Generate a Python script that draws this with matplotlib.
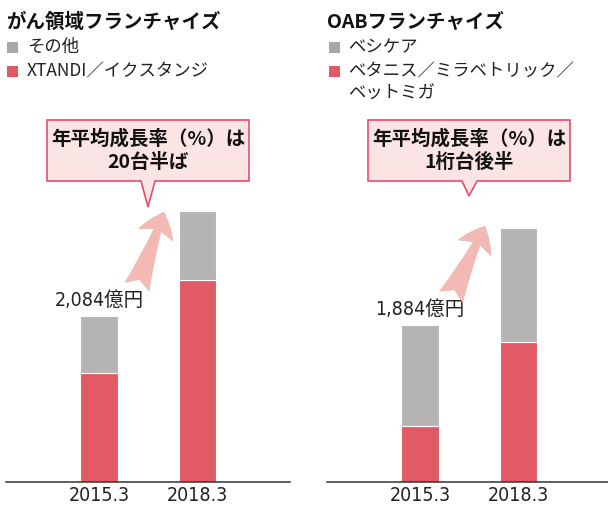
import matplotlib
matplotlib.use("Agg")
import matplotlib.pyplot as plt
from matplotlib.patches import Rectangle, Polygon

# data (億円)
years = ["2015.3", "2018.3"]
onc_xtandi = [1368, 2536]
onc_other = [716, 866]
oab_mirabegron = [672, 1680]
oab_vesicare = [1212, 1368]
onc_total_label = "2,084億円"
oab_total_label = "1,884億円"

RED = "#E15A65"
GRAY = "#B5B4B2"
LEG_GRAY = "#A7A8AC"
BOX_FILL = "#FBE4E4"
BOX_EDGE = "#E2506E"
ARROW = "#F2B9B5"

JP = ["Noto Sans CJK JP", "DejaVu Sans"]
NARROW = ["DejaVu Sans", "Noto Sans CJK JP"]

W, H = 608, 508
fig = plt.figure(figsize=(W / 100, H / 100), dpi=100)


def fx(x):
    return x / W


def fy(y):
    return 1 - y / H


def panel(left_px, right_px, center0, red, gray, label, ytop):
    ax = fig.add_axes([fx(left_px), fy(482), (right_px - left_px) / W, 372 / H])
    x = [0, 1]
    ax.bar(x, red, width=0.376, color=RED, edgecolor="white", linewidth=0.8)
    ax.bar(x, gray, bottom=red, width=0.376, color=GRAY,
           edgecolor="white", linewidth=0.8)
    ax.set_xlim((left_px - center0) / 98.5, (right_px - center0) / 98.5)
    ax.set_ylim(0, ytop)
    for s in ["left", "right", "top"]:
        ax.spines[s].set_visible(False)
    ax.spines["bottom"].set_color("#333333")
    ax.spines["bottom"].set_linewidth(1.1)
    ax.set_yticks([])
    ax.set_xticks(x)
    ax.set_xticklabels(years, family=NARROW, fontstretch="condensed",
                       fontsize=14, color="#222222")
    ax.tick_params(axis="x", length=0, pad=3)
    ax.annotate(label, xy=(0, red[0] + gray[0]), xytext=(0, 11),
                textcoords="offset points", ha="center", va="center",
                family=NARROW, fontstretch="condensed", fontsize=14,
                color="#222222")
    return ax


panel(6, 290, 99, onc_xtandi, onc_other, onc_total_label, 372 * 2084 / 166)
panel(327, 608, 420, oab_mirabegron, oab_vesicare, oab_total_label, 372 * 1884 / 157)

# titles and legends
fig.text(fx(6), fy(22), "がん領域フランチャイズ", family=JP, fontsize=14,
         fontweight="bold", va="center", ha="left", color="#111111")
fig.text(fx(327), fy(22), "OABフランチャイズ", family=JP, fontsize=14,
         fontweight="bold", va="center", ha="left", color="#111111")

legend_rows = [
    (7, 27, 47, LEG_GRAY, ["その他"]),
    (7, 27, 71, RED, ["XTANDI／イクスタンジ"]),
    (329, 348, 47, LEG_GRAY, ["ベシケア"]),
    (329, 348, 71, RED, ["ベタニス／ミラベトリック／", "ベットミガ"]),
]
for sx, tx, ty, c, lines in legend_rows:
    fig.add_artist(Rectangle((fx(sx), fy(ty + 5.5)), 11 / W, 11 / H,
                             transform=fig.transFigure, color=c, lw=0))
    for i, t in enumerate(lines):
        fig.text(fx(tx), fy(ty + 23 * i), t, family=JP, fontsize=12.5,
                 va="center", ha="left", color="#222222")

# callout boxes
def callout(x0, x1, y0, y1, b0, b1, tip, text):
    pts = [(x0, y0), (x1, y0), (x1, y1), (b1, y1), tip, (b0, y1), (x0, y1)]
    fig.add_artist(Polygon([(fx(a), fy(b)) for a, b in pts], closed=True,
                           transform=fig.transFigure, facecolor=BOX_FILL,
                           edgecolor=BOX_EDGE, linewidth=1.2))
    fig.text(fx((x0 + x1) / 2), fy((y0 + y1) / 2), text, family=JP,
             fontsize=14, fontweight="bold", ha="center", va="center",
             linespacing=1.3, color="#111111")


callout(47, 249, 120, 181, 141, 155, (148, 207), "年平均成長率（%）は\n20台半ば")
callout(368, 570, 120, 181, 462, 477, (469, 196), "年平均成長率（%）は\n1桁台後半")

# growth arrows
for tail, tip in [((137, 287), (164, 212)), ((451, 297), (485, 226))]:
    fig.add_artist(plt.annotate(
        "", xy=(tip[0], H - tip[1]), xytext=(tail[0], H - tail[1]),
        xycoords="figure pixels", textcoords="figure pixels",
        arrowprops=dict(arrowstyle="fancy,head_length=0.8,head_width=1.2,tail_width=0.85",
                        mutation_scale=22, color=ARROW, lw=0, shrinkA=0, shrinkB=0)))

fig.savefig("out.png", dpi=100)
